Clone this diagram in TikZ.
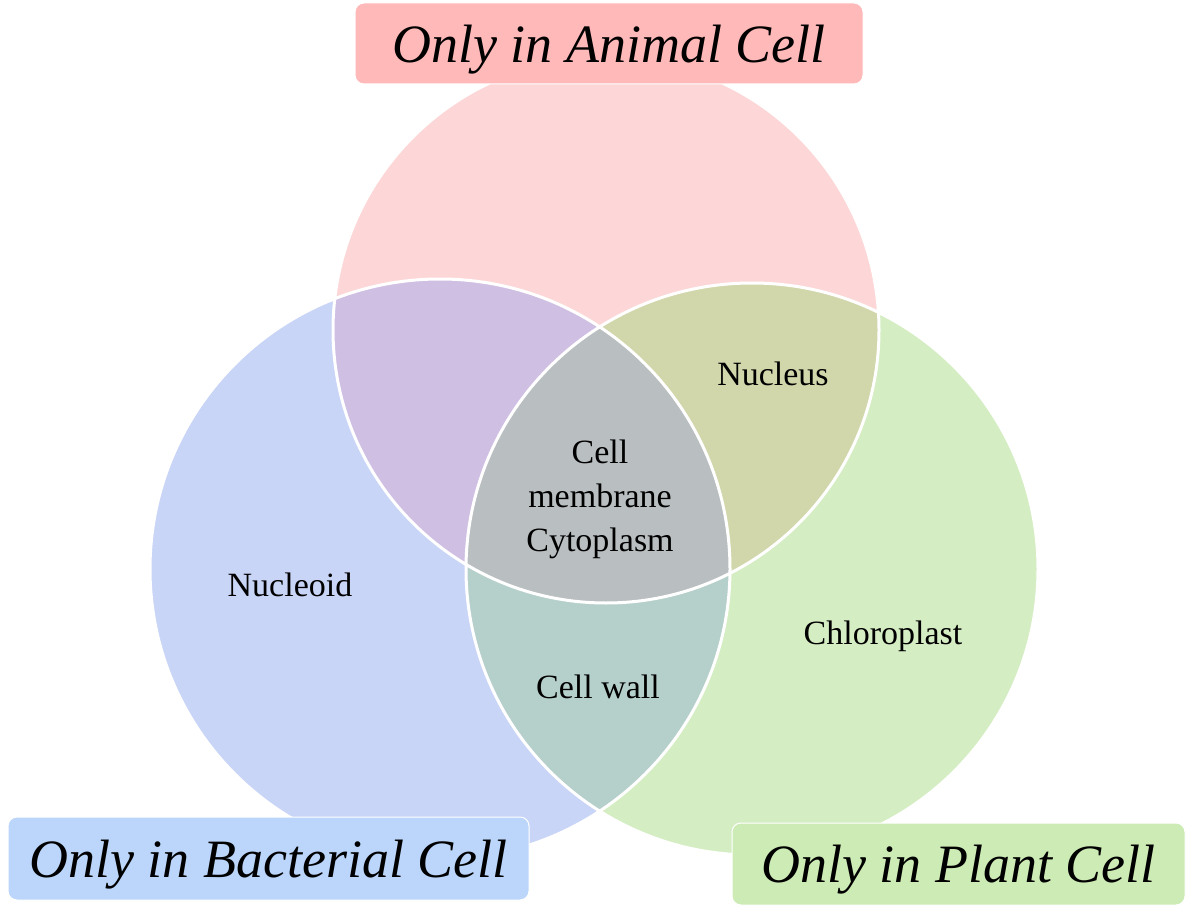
\documentclass[tikz,border=0pt]{standalone}
\usepackage{fontspec}
\setmainfont{Liberation Serif}
\definecolor{animalpink}{HTML}{FDD7D7}
\definecolor{bactblue}{HTML}{C9D5F7}
\definecolor{plantgreen}{HTML}{D5EDC3}
\definecolor{abpurple}{HTML}{CFBFE3}
\definecolor{apolive}{HTML}{D1D6AB}
\definecolor{bpteal}{HTML}{B5CFCA}
\definecolor{allgray}{HTML}{B9BEC0}
\definecolor{animaltagc}{HTML}{FFB9B9}
\definecolor{bacttagc}{HTML}{BBD6FA}
\definecolor{planttagc}{HTML}{CDEBB5}
\begin{document}
\begin{tikzpicture}[x=1pt,y=-1pt,
    tag/.style={draw=white,line width=1pt,rounded corners=9pt,inner sep=0pt,text depth=0pt,
        font=\fontsize{54}{60}\selectfont\itshape},
    part/.style={font=\fontsize{34}{44}\selectfont,align=center}]
\useasboundingbox (0,0) rectangle (1200,912);
\def\animal{(606,330) circle (273)}
\def\bact{(440,569) circle (290)}
\def\plant{(752,569) circle (286)}
% single circles
\fill[animalpink] \animal;
\fill[bactblue] \bact;
\fill[plantgreen] \plant;
% overlaps
\begin{scope}
    \clip \animal;
    \fill[abpurple] \bact;
    \fill[apolive] \plant;
\end{scope}
\begin{scope}
    \clip \bact;
    \fill[bpteal] \plant;
\end{scope}
\begin{scope}
    \clip \animal;
    \clip \bact;
    \fill[allgray] \plant;
\end{scope}
\draw[white,line width=3pt] \animal \bact \plant;
% labels
\node[tag,fill=animaltagc,minimum width=508pt,minimum height=81pt] (animaltag) at (609,43.5) {Only in Animal Cell};
\node[tag,fill=bacttagc,minimum width=521pt,minimum height=83pt] (bacttag) at (268.5,858.5) {Only in Bacterial Cell};
\node[tag,fill=planttagc,minimum width=453pt,minimum height=82pt] (planttag) at (958.5,864) {Only in Plant Cell};
\node[part] (nucleoid) at (290,585) {Nucleoid};
\node[part] (nucleus) at (773,374) {Nucleus};
\node[part] (chloro) at (883,636) {Chloroplast};
\node[part] (wall) at (598,687) {Cell wall};
\node[part] (common) at (600,499) {Cell\\membrane\\Cytoplasm};
\end{tikzpicture}
\end{document}
